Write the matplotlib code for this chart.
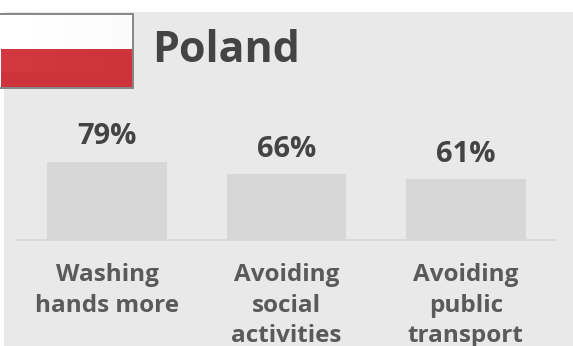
import numpy as np
import matplotlib
matplotlib.use('Agg')
import matplotlib.pyplot as plt
from matplotlib.patches import Rectangle

categories = ['Washing\nhands more', 'Avoiding\nsocial\nactivities', 'Avoiding\npublic\ntransport']
values = [79, 66, 61]
title = 'Poland'

W, H = 573, 346
PANEL = '#e9e9e9'
BAR = '#d7d7d7'
LINE = '#d9d9d9'
TITLE_INK = '#444444'
VALUE_INK = '#444444'
LABEL_INK = '#5a5a5a'

plt.rcParams['font.family'] = ['Open Sans', 'DejaVu Sans']

fig = plt.figure(figsize=(W / 100, H / 100), dpi=100, facecolor='white')

# grey panel and flag live on a pixel-sized backdrop
bg = fig.add_axes([0, 0, 1, 1])
bg.set_xlim(0, W)
bg.set_ylim(H, 0)
bg.axis('off')
bg.add_patch(Rectangle((4, 12), W - 4, H - 12, fc=PANEL, ec='none'))

# flag with a faint gloss
white = np.array([0.985, 0.985, 0.985])
red = np.array([0.80, 0.20, 0.23])
rows = np.linspace(0, 1, 74)
flag = np.zeros((74, 132, 3))
flag[rows < 0.49] = white
flag[rows >= 0.49] = red
sheen = np.linspace(0.02, 0, 132)[None, :, None] * (rows[:, None, None] < 0.8)
flag = np.clip(flag + sheen, 0, 1)
bg.imshow(flag, extent=(0.5, 132.5, 87.5, 13.5), aspect='auto', zorder=2, interpolation='bilinear')
bg.add_patch(Rectangle((-1, 13.5), 133.5, 74, fc='none', ec='#858585', lw=1.4, zorder=3))
bg.set_xlim(0, W)
bg.set_ylim(H, 0)
bg.text(152, 62, title, fontsize=31, fontweight='bold', color=TITLE_INK, va='baseline', ha='left')

# chart: baseline at y=240, 1 unit is about one pixel
ax = fig.add_axes([17.5 / W, 1 - 240 / H, 538 / W, 140 / H])
ax.patch.set_alpha(0)
ax.set_xlim(-0.5, 2.5)
ax.set_ylim(0, 141)
x = np.arange(len(categories))
bars = ax.bar(x, values, width=0.668, color=BAR)
ax.bar_label(bars, labels=[f'{v}%' for v in values], padding=7.5, fontsize=21,
             fontweight='bold', color=VALUE_INK)
for side in ['top', 'left', 'right']:
    ax.spines[side].set_visible(False)
ax.spines['bottom'].set_color(LINE)
ax.spines['bottom'].set_linewidth(1.4)
ax.set_yticks([])
ax.set_xticks(x, categories)
ax.tick_params(axis='x', length=0, pad=16.5, labelsize=17.5, labelcolor=LABEL_INK)
for lab in ax.get_xticklabels():
    lab.set_fontweight('bold')
    lab.set_linespacing(1.37)

fig.savefig('out.png', dpi=100, facecolor='white')
